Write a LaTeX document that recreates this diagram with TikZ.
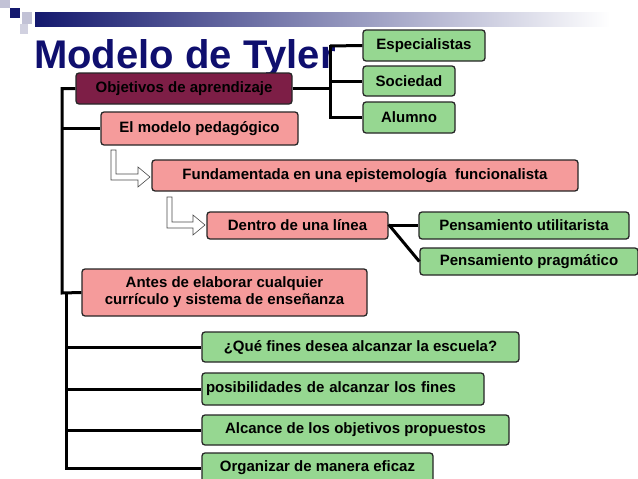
\documentclass[tikz,border=0pt]{standalone}
\usepackage{fontspec}
\setmainfont{Liberation Sans}
\definecolor{navy}{RGB}{20,25,110}
\definecolor{titlec}{RGB}{15,15,110}
\definecolor{greenc}{RGB}{150,215,145}
\definecolor{pinkc}{RGB}{245,155,155}
\definecolor{maroon}{RGB}{125,30,70}
\begin{document}
\begin{tikzpicture}[x=1pt,y=-1pt,
 bx/.style={draw=black!85,line width=1.3pt,rounded corners=3pt,font=\bfseries\fontsize{15}{17}\selectfont,inner sep=0pt,align=center},
 gr/.style={bx,fill=greenc},
 pk/.style={bx,fill=pinkc},
 ln/.style={line width=3pt,draw=black},
 harrow/.style={draw=black!70,fill=white,line width=0.6pt}]
\useasboundingbox (0,0) rectangle (638,479);
\fill[white] (0,0) rectangle (638,479);
% banner
\shade[left color=navy,right color=white] (35,12) rectangle (610,26);
\fill[navy] (10,8) rectangle (20,18);
\fill[blue!20!gray!40] (0,0) rectangle (10,8);
\fill[blue!20!gray!40] (22,12) rectangle (32,24);
\fill[blue!20!gray!30] (20,24) rectangle (28,34);
\node[anchor=base west,font=\bfseries\fontsize{40}{40}\selectfont,text=titlec,inner sep=0pt] (title) at (34,68) {Modelo de Tyler};
% nodes
\node[gr,minimum width=122,minimum height=31] (esp) at (424,45.5) {Especialistas};
\node[gr,minimum width=92,minimum height=30] (soc) at (409,81) {Sociedad};
\node[gr,minimum width=92,minimum height=31] (alu) at (409,117.5) {Alumno};
\node[bx,fill=maroon,minimum width=216,minimum height=31] (obj) at (184,88.5) {Objetivos de aprendizaje};
\node[pk,minimum width=197,minimum height=33] (mod) at (199.5,128.5) {El modelo pedagógico};
\node[pk,minimum width=426,minimum height=31] (fun) at (365,175.5) {Fundamentada en una epistemología \ funcionalista};
\node[pk,minimum width=181,minimum height=27] (den) at (297.5,225.5) {Dentro de una línea};
\node[gr,minimum width=210,minimum height=27] (uti) at (524,225.5) {Pensamiento utilitarista};
\node[gr,minimum width=218,minimum height=27] (pra) at (529,261.5) {Pensamiento pragmático};
\node[pk,minimum width=285,minimum height=47] (ant) at (224.5,292.5) {Antes de elaborar cualquier\\currículo y sistema de enseñanza};
\node[gr,minimum width=317,minimum height=30] (que) at (360.5,347) {¿Qué fines desea alcanzar la escuela?};
\node[gr,minimum width=282,minimum height=32,text width=274,align=left] (pos) at (343,389) {posibilidades de alcanzar los fines};
\node[gr,minimum width=307,minimum height=30] (alc) at (355.5,430) {Alcance de los objetivos propuestos};
\node[gr,minimum width=231,minimum height=30] (org) at (317.5,468) {Organizar de manera eficaz};
% connectors right
\draw[ln] (obj.east) -- (330,88.5) coordinate (rj);
\draw[ln] (330,46) -- (esp.west);
\draw[ln] (330,44.5) -- (330,117.5) -- (alu.west);
\draw[ln] (330,81) -- (soc.west);
% left trunk
\draw[ln] (obj.west) -- (62,88.5) -- (62,293) -- (ant.west);
\draw[ln] (62,128.5) -- (mod.west);
\draw[ln] (66,293) -- (66,468) -- (org.west);
\draw[ln] (66,347) -- (que.west);
\draw[ln] (66,389) -- (pos.west);
\draw[ln] (66,430) -- (alc.west);
% dentro connectors
\draw[ln] (den.east) -- (uti.west);
\draw[ln] ([yshift=1pt]den.east) -- (pra.west);
% hollow arrows
\draw[harrow] (111,150) -- (116,150) -- (116,174) -- (138,174) -- (138,167) -- (150,177) -- (138,187) -- (138,180) -- (111,180) -- cycle;
\draw[harrow] (167,197) -- (172,197) -- (172,222) -- (193,222) -- (193,215) -- (205,225) -- (193,235) -- (193,228) -- (167,228) -- cycle;
\end{tikzpicture}
\end{document}
